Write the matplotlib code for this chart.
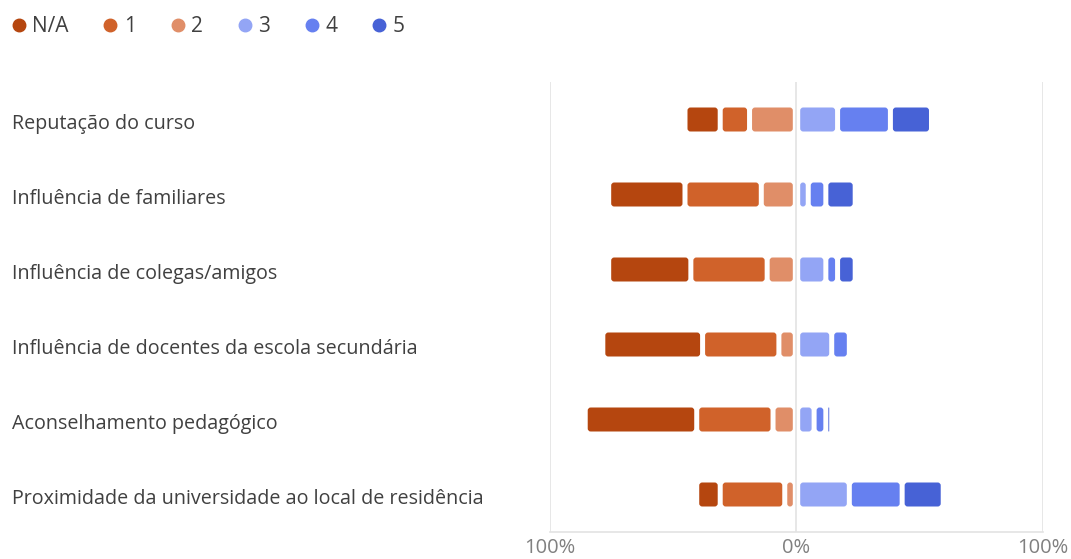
import matplotlib.pyplot as plt
import matplotlib.transforms as mtransforms
from matplotlib.patches import FancyBboxPatch
from matplotlib.lines import Line2D
from matplotlib.ticker import FuncFormatter

plt.rcParams['font.family'] = ['Open Sans', 'DejaVu Sans']

# --- data (answer counts per reason, 42 respondents) ---
categories = [
    'Reputação do curso',
    'Influência de familiares',
    'Influência de colegas/amigos',
    'Influência de docentes da escola secundária',
    'Aconselhamento pedagógico',
    'Proximidade da universidade ao local de residência',
]
levels = ['N/A', '1', '2', '3', '4', '5']
count_na = [6, 13, 14, 17, 19, 4]
count_1 = [5, 13, 13, 13, 13, 11]
count_2 = [8, 6, 5, 3, 4, 2]
count_3 = [7, 2, 5, 6, 3, 9]
count_4 = [9, 3, 2, 3, 2, 9]
count_5 = [7, 5, 3, 0, 1, 7]

colors = ['#b5460f', '#d0622a', '#e08e68', '#93a5f5', '#6680f0', '#4762d6']

totals = [a + b + c + d + e + f for a, b, c, d, e, f in
          zip(count_na, count_1, count_2, count_3, count_4, count_5)]
pct = [[v / t * 100 for v, t in zip(s, totals)]
       for s in [count_na, count_1, count_2, count_3, count_4, count_5]]
p_na, p1, p2, p3, p4, p5 = pct

W, H = 1071, 559
fig = plt.figure(figsize=(W / 100, H / 100), dpi=100)
ax = fig.add_axes([550 / W, 1 - 532 / H, 493 / W, 450 / H])

y = list(range(len(categories)))
bar_h = 0.32

# left side: 2 next to zero, then 1, then N/A furthest out
neg2 = [-v for v in p2]
neg1 = [-v for v in p1]
negna = [-v for v in p_na]
left1 = neg2
leftna = [a + b for a, b in zip(neg2, neg1)]
containers = [
    (ax.barh(y, negna, left=leftna, height=bar_h), colors[0]),
    (ax.barh(y, neg1, left=left1, height=bar_h), colors[1]),
    (ax.barh(y, neg2, height=bar_h), colors[2]),
    (ax.barh(y, p3, height=bar_h), colors[3]),
    (ax.barh(y, p4, left=p3, height=bar_h), colors[4]),
    (ax.barh(y, p5, left=[a + b for a, b in zip(p3, p4)], height=bar_h), colors[5]),
]

ax.set_xlim(-100, 100)
ax.set_ylim(len(categories) - 0.5, -0.5)

# swap plain rectangles for rounded ones with a small gap between segments
x_per_px = 200 / 493
y_per_px = 6 / 450
gap = 2.5 * x_per_px
aspect = y_per_px / x_per_px
for bars, col in containers:
    for rect in bars:
        x0 = min(rect.get_x(), rect.get_x() + rect.get_width())
        x1 = max(rect.get_x(), rect.get_x() + rect.get_width())
        rect.set_visible(False)
        a = x0 + gap + (1.2 * x_per_px if abs(x0) < 1e-9 else 0)
        b = x1 - gap - (1.2 * x_per_px if abs(x1) < 1e-9 else 0)
        w_in = b - a
        if w_in <= 0.2:
            continue
        r = min(3 * x_per_px, w_in / 2)
        ax.add_patch(FancyBboxPatch((a, rect.get_y()), w_in, rect.get_height(),
                                    boxstyle=f'round,pad=0,rounding_size={r}',
                                    mutation_aspect=aspect, fc=col, ec='none', zorder=3))

# grid and axis styling
for xv in [-100, 0, 100]:
    ax.axvline(xv, color='#e3e3e3', lw=1.2, zorder=1)
for s in ['top', 'left', 'right']:
    ax.spines[s].set_visible(False)
ax.spines['bottom'].set_color('#e3e3e3')
ax.spines['bottom'].set_linewidth(1.2)
ax.set_xticks([-100, 0, 100])
ax.xaxis.set_major_formatter(FuncFormatter(lambda v, _: f'{abs(int(v))}%'))
ax.tick_params(axis='x', length=0, pad=4, labelsize=14.5, labelcolor='#808080')
ax.set_yticks([])

# category labels at the left edge of the figure
trans = mtransforms.blended_transform_factory(fig.transFigure, ax.transData)
trans = trans + mtransforms.ScaledTranslation(0, -4 / 100, fig.dpi_scale_trans)
for yi, name in zip(y, categories):
    ax.text(12 / W, yi, name, transform=trans, ha='left', va='center',
            fontsize=14.2, color='#404040')

# legend
handles = [Line2D([], [], marker='o', linestyle='none', markersize=9,
                  markerfacecolor=c, markeredgecolor=c) for c in colors]
fig.legend(handles, levels, loc='upper left', bbox_to_anchor=(3 / W, 1 - 8 / H),
           ncol=6, frameon=False, fontsize=15, handlelength=0.7,
           handletextpad=0.3, columnspacing=1.65, borderaxespad=0,
           labelcolor='#404040')

fig.savefig('out.png', dpi=100)
